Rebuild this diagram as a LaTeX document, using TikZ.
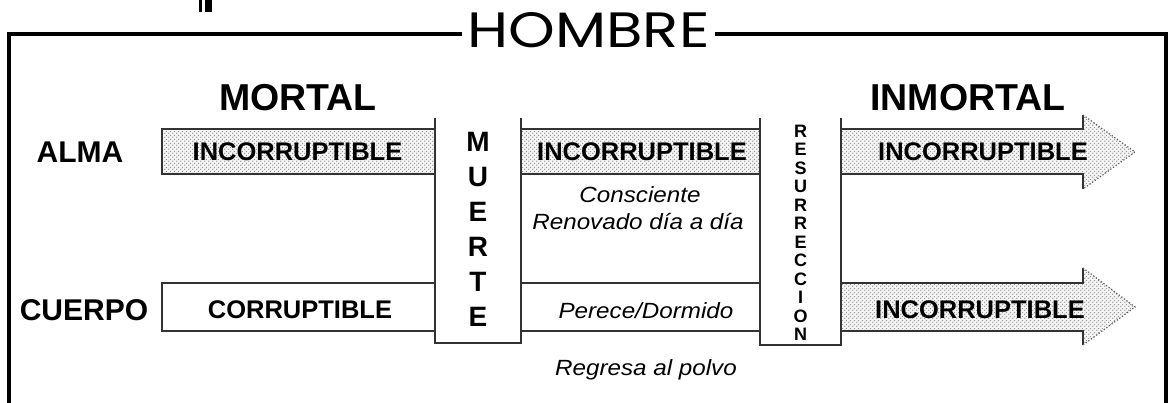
\documentclass[tikz,border=0pt]{standalone}
\usepackage{fontspec}
\setmainfont{Liberation Sans}
\newfontfamily\hfont{Poppins}
\usetikzlibrary{patterns,patterns.meta}
\definecolor{linegray}{HTML}{333333}
\tikzdeclarepattern{
  name=stipple, type=uncolored,
  bounding box={(0pt,0pt) and (4pt,4pt)},
  tile size={(4pt,4pt)},
  code={\fill (1pt,1pt) circle (0.8pt); \fill (3pt,3pt) circle (0.8pt);}
}
\tikzset{
  frameline/.style={line width=4pt, black},
  boxline/.style={draw=linegray, line width=1.8pt},
  stipfill/.style={fill=gray!8},
  stipdots/.style={pattern=stipple, pattern color=black!45},
  headline/.style={draw=gray!70!black, line width=1.2pt, dotted},
  bigtxt/.style={font=\bfseries\fontsize{37.5}{40}\selectfont, inner sep=0pt},
  rowtxt/.style={font=\bfseries\fontsize{30}{32}\selectfont, inner sep=0pt},
  bartxt/.style={font=\bfseries\fontsize{25.5}{27}\selectfont, inner sep=0pt},
  ittxt/.style={font=\itshape\fontsize{22}{27}\selectfont, inner sep=0pt, anchor=base},
  colm/.style={font=\bfseries\fontsize{28}{35}\selectfont, inner sep=0pt, align=center},
  colr/.style={font=\bfseries\fontsize{18}{18.5}\selectfont, inner sep=0pt, align=center},
}
\newcommand{\wid}[1]{\scalebox{1.1}[1]{#1}}
\begin{document}
\begin{tikzpicture}[x=1pt,y=-1pt]
\useasboundingbox (0,0) rectangle (1170,402);

% small marks at the top
\fill[black] (199,0) rectangle (201.5,11.5);
\fill[black] (204.5,0) rectangle (212,11.5);

% frame with title
\node[inner sep=0pt] (hombre) at (588.5,30.5) {\hfont\resizebox{242pt}{35pt}{HOMBRE}};
\coordinate (fbl) at (9,404);
\coordinate (fbr) at (1166,404);
\coordinate (gapl) at (462,34);
\coordinate (gapr) at (715,34);
\draw[frameline] (fbl) |- (gapl);
\draw[frameline] (gapr) -| (fbr);

% headings
\node[bigtxt] (mortal) at (298,98) {MORTAL};
\node[bigtxt] (inmortal) at (968,98) {INMORTAL};
\node[rowtxt] (alma) at (80,152) {ALMA};
\node[rowtxt] (cuerpo) at (84,310) {CUERPO};

% ALMA: first stippled bar
\fill[stipfill] (162,129) rectangle (435,174);
\fill[stipdots] (162,129) rectangle (435,174);
\draw[boxline] (162,129) rectangle (435,174);
% ALMA: middle stippled bar
\fill[stipfill] (521,129) rectangle (759,174);
\fill[stipdots] (521,129) rectangle (759,174);
\draw[boxline] (521,129) -- (759,129) (521,174) -- (759,174);
% ALMA: arrow
\fill[stipfill] (841,129) -- (1083,129) -- (1083,115) -- (1135,152) -- (1083,189) -- (1083,174) -- (841,174) -- cycle;
\fill[stipdots] (841,129) -- (1083,129) -- (1083,115) -- (1135,152) -- (1083,189) -- (1083,174) -- (841,174) -- cycle;
\draw[boxline] (841,129) -- (1083,129) -- (1083,115);
\draw[boxline] (841,174) -- (1083,174) -- (1083,189);
\draw[headline] (1083,115) -- (1135,152) -- (1083,189);

% CUERPO: first bar
\draw[boxline, fill=white] (162,283) rectangle (435,331);
% CUERPO: middle lines
\draw[boxline] (521,283) -- (759,283) (521,331) -- (759,331);
% CUERPO: arrow
\fill[stipfill] (841,283) -- (1083,283) -- (1083,268) -- (1135,307) -- (1083,345) -- (1083,331) -- (841,331) -- cycle;
\fill[stipdots] (841,283) -- (1083,283) -- (1083,268) -- (1135,307) -- (1083,345) -- (1083,331) -- (841,331) -- cycle;
\draw[boxline] (841,283) -- (1083,283) -- (1083,268);
\draw[boxline] (841,331) -- (1083,331) -- (1083,345);
\draw[headline] (1083,268) -- (1135,307) -- (1083,345);

% MUERTE and RESURRECCION columns
\draw[boxline] (435,118) -- (435,343) -- (521,343) -- (521,118);
\draw[boxline] (760,118) -- (760,345) -- (841,345) -- (841,118);
\node[colm] (muerte) at (478,229.5) {M\\U\\E\\R\\T\\E};
\node[colr] (resurr) at (800.5,233) {R\\E\\S\\U\\R\\R\\E\\C\\C\\I\\O\\N};

% bar texts
\node[bartxt] (inc1) at (297.5,152) {INCORRUPTIBLE};
\node[bartxt] (inc2) at (642,152) {INCORRUPTIBLE};
\node[bartxt] (inc3) at (983,152) {INCORRUPTIBLE};
\node[bartxt] (corr) at (300,310) {CORRUPTIBLE};
\node[bartxt] (inc4) at (980,310) {INCORRUPTIBLE};

% italic notes
\node[ittxt] (consc) at (640,202) {\wid{Consciente}};
\node[ittxt] (renov) at (638,229) {\wid{Renovado día a día}};
\node[ittxt] (perece) at (646,318) {\wid{Perece/Dormido}};
\node[ittxt] (regresa) at (646,375) {\wid{Regresa al polvo}};
\end{tikzpicture}
\end{document}
